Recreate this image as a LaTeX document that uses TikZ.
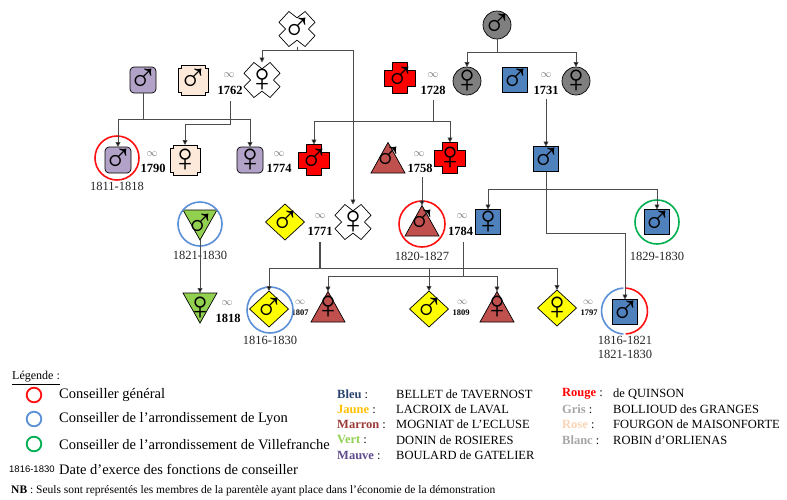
\documentclass[tikz,border=0pt]{standalone}
\usepackage{fontspec}
\setmainfont{Liberation Serif}
\setsansfont{Liberation Sans}
\newfontfamily\symf{Liberation Serif}
\usetikzlibrary{arrows.meta}
\definecolor{cBleu}{HTML}{4F81BD}
\definecolor{cMauve}{HTML}{B3A2C7}
\definecolor{cGris}{HTML}{7F7F7F}
\definecolor{cJaune}{HTML}{FFFF00}
\definecolor{cMarron}{HTML}{C0504D}
\definecolor{cVert}{HTML}{92D050}
\definecolor{cRouge}{HTML}{FF0000}
\definecolor{cRose}{HTML}{FDE9D9}
\definecolor{ringRed}{HTML}{FF1010}
\definecolor{ringBlue}{HTML}{5B8FD6}
\definecolor{ringGreen}{HTML}{00B050}
\definecolor{tBleu}{HTML}{2B4470}
\definecolor{tJaune}{HTML}{FFC000}
\definecolor{tMarron}{HTML}{9B3B38}
\definecolor{tVert}{HTML}{92D050}
\definecolor{tMauve}{HTML}{5F4B8B}
\definecolor{tRouge}{HTML}{FF0000}
\definecolor{tGris}{HTML}{A6A6A6}
\definecolor{tRose}{HTML}{FBD4B4}
\definecolor{tBlanc}{HTML}{A6A6A6}
\tikzset{
  shp/.style={draw=black, line width=0.7pt},
  person/.style={inner sep=0pt, outer sep=0pt, font=\symf\fontsize{40}{40}\selectfont},
  Bleubox/.style={minimum width=25pt, minimum height=25pt},
  Mauvebox/.style={minimum width=26pt, minimum height=26pt},
  Grisbox/.style={minimum width=28pt, minimum height=28pt},
  Jaunebox/.style={minimum width=39pt, minimum height=36pt},
  Marronbox/.style={minimum width=34pt, minimum height=31pt},
  Vertbox/.style={minimum width=34pt, minimum height=30pt},
  Rougebox/.style={minimum width=31pt, minimum height=31pt},
  Rosebox/.style={minimum width=30pt, minimum height=30pt},
  Blancbox/.style={minimum width=36pt, minimum height=35pt},
  pBleu/.pic={\path[shp, fill=cBleu] (-12.5,-12.5) rectangle (12.5,12.5);},
  pMauve/.pic={\path[shp, fill=cMauve, rounded corners=4pt] (-13,-13) rectangle (13,13);},
  pGris/.pic={\path[shp, fill=cGris] (0,0) circle[radius=14];},
  pJaune/.pic={\path[shp, fill=cJaune] (0,-18) -- (19.5,0) -- (0,18) -- (-19.5,0) -- cycle;},
  pMarron/.pic={\path[shp, fill=cMarron] (0,-15.5) -- (17,15) -- (-17,15) -- cycle;},
  pVert/.pic={\path[shp, fill=cVert] (-17,-15) -- (17,-15) -- (0,15) -- cycle;},
  pRouge/.pic={\path[shp, fill=cRouge] (-7.5,-15.5) -- (7.5,-15.5) -- (7.5,-8) -- (15.5,-8) -- (15.5,8) -- (7.5,8) -- (7.5,15.5) -- (-7.5,15.5) -- (-7.5,8) -- (-15.5,8) -- (-15.5,-8) -- (-7.5,-8) -- cycle;},
  pRose/.pic={\path[shp, fill=cRose] (-12,-15) -- (12,-15) -- (12,-12) -- (15,-12) -- (15,12) -- (12,12) -- (12,15) -- (-12,15) -- (-12,12) -- (-15,12) -- (-15,-12) -- (-12,-12) -- cycle;},
  pBlanc/.pic={\path[shp, fill=white] (-18,-6.7) -- (-8.1,-17.5) -- (0,-11.2) -- (8.1,-17.5) -- (18,-6.7) -- (11.5,0) -- (18,6.7) -- (8.1,17.5) -- (0,11.2) -- (-8.1,17.5) -- (-18,6.7) -- (-11.5,0) -- cycle;},
  link/.style={draw=black!70, line width=0.8pt},
  arr/.style={link, -{Triangle[length=5pt,width=5pt,fill=black]}},
  infs/.style={text=black!55, font=\fontsize{11}{11}\selectfont, inner sep=0pt},
  yr/.style={font=\bfseries\fontsize{12.5}{12.5}\selectfont, inner sep=0pt},
  syr/.style={font=\bfseries\fontsize{8.5}{8.5}\selectfont, inner sep=0pt},
  sinf/.style={text=black!55, font=\fontsize{10}{10}\selectfont, inner sep=0pt},
  date/.style={text=black!85, font=\fontsize{12.5}{12.5}\selectfont, inner sep=0pt},
  ring/.style={line width=1.6pt},
  lgtext/.style={anchor=west, inner sep=0pt, font=\fontsize{14.5}{14.5}\selectfont},
  lgkey/.style={anchor=west, inner sep=0pt, font=\fontsize{12.5}{12.5}\selectfont},
  lgring/.style={circle, line width=1.8pt, minimum size=14.6pt, inner sep=0pt},
}
\newcommand\pers[4]{\pic at (#2) {p#3}; \node[person, #3box] (#1) at (#2) {#4};}
\newcommand\marr[4]{\node[infs] (i#1) at (#2) {$\infty$}; \node[yr] (y#1) at (#3) {#1};}
\newcommand\smarr[3]{\node[sinf] (i#1) at (#2) {$\infty$}; \node[syr] (y#1) at (#3) {#1};}
\begin{document}
\begin{tikzpicture}[x=1pt,y=-1pt]
\path[use as bounding box, fill=white] (0,0) rectangle (787,499);
% persons
\pers{rob1}{297,29}{Blanc}{♂}
\pers{gris1}{497,25}{Gris}{♂}
\pers{mau1}{143,80}{Mauve}{♂}
\pers{ros1}{193,80}{Rose}{♂}
\pers{rob2}{262,80}{Blanc}{♀}
\pers{rouge1}{400,78}{Rouge}{♂}
\pers{gris2}{467,81}{Gris}{♀}
\pers{bleu1}{515,80}{Bleu}{♂}
\pers{gris3}{576,81}{Gris}{♀}
\pers{mau2}{118,160}{Mauve}{♂}
\pers{ros2}{185,160}{Rose}{♀}
\pers{mau3}{250,160}{Mauve}{♀}
\pers{rouge2}{314,160}{Rouge}{♂}
\pers{mar1}{388,158}{Marron}{♂}
\pers{rouge3}{450,158}{Rouge}{♀}
\pers{bleu2}{546,159}{Bleu}{♂}
\pers{vert1}{200,225}{Vert}{♂}
\pers{jau1}{285,222}{Jaune}{♂}
\pers{rob3}{353,222}{Blanc}{♀}
\pers{mar2}{422,221}{Marron}{♂}
\pers{bleu3}{488,222}{Bleu}{♀}
\pers{bleu4}{657,222}{Bleu}{♂}
\pers{vert2}{200,308}{Vert}{♀}
\pers{jau2}{269,309}{Jaune}{♂}
\pers{mar3}{328,307}{Marron}{♀}
\pers{jau3}{429,309}{Jaune}{♂}
\pers{mar4}{497,307}{Marron}{♀}
\pers{jau4}{557,308}{Jaune}{♀}
\pers{bleu5}{625,312}{Bleu}{♂}
% marriages
\marr{1762}{229,75}{230,90}{}
\marr{1728}{433,75}{433,90}{}
\marr{1731}{546,75}{546,90}{}
\marr{1790}{152,154}{153,168}{}
\marr{1774}{279,154}{279,168}{}
\marr{1758}{419,154}{420,168}{}
\marr{1771}{320,216}{320,231}{}
\marr{1784}{462,216}{460.5,231}{}
\marr{1818}{227,303}{228,318}{}
\smarr{1807}{300,302}{300,313}
\smarr{1809}{462,302}{461,313}
\smarr{1797}{588,302}{589,313}
% dates
\node[date] (d1) at (117,186) {1811-1818};
\node[date] (d2) at (200,255) {1821-1830};
\node[date] (d3) at (422,256) {1820-1827};
\node[date] (d4) at (657,256) {1829-1830};
\node[date] (d5) at (270,340) {1816-1830};
\node[date] (d6) at (625,340) {1816-1821};
\node[date] (d7) at (625,354) {1821-1830};
% rings
\draw[ring, ringRed] ([shift={(-1,-2)}]mau2.center) circle[radius=22];
\draw[ring, ringBlue] ([shift={(0,-1)}]vert1.center) circle[radius=22];
\draw[ring, ringRed] ([shift={(0,3)}]mar2.center) circle[radius=23];
\draw[ring, ringGreen] (bleu4.center) circle[radius=22];
\draw[ring, ringBlue] ([shift={(1,1)}]jau2.center) circle[radius=23];
\draw[ring, ringBlue] ([shift={(-0.5,-1)}]bleu5.center) ++(-93:23) arc[start angle=-93, end angle=-267, radius=23];
\draw[ring, ringRed] ([shift={(-0.5,-1)}]bleu5.center) ++(-87:23) arc[start angle=-87, end angle=87, radius=23];
% connectors
\coordinate (jrob) at (297,50);
\draw[link] (rob1.south) -- (jrob);
\draw[arr] (jrob) -| (rob2.north);
\draw[arr] (jrob) -| (rob3.north);
\coordinate (jgris) at (497,52);
\draw[link] (gris1.south) -- (jgris);
\draw[arr] (jgris) -| (gris2.north);
\draw[arr] (jgris) -| (gris3.north);
\coordinate (jmau) at (143,119);
\draw[link] (mau1.south) -- (jmau);
\draw[arr] (jmau) -| (mau2.north);
\draw[arr] (jmau) -| (mau3.north);
\coordinate (j1762) at (230,124);
\draw[arr] ([yshift=-7pt]y1762.south) -- (j1762) -| (ros2.north);
\coordinate (j1728) at (433,121);
\draw[link] ([yshift=-6pt]y1728.south) -- (j1728);
\draw[arr] (j1728) -| (rouge2.north);
\draw[arr] (j1728) -| (rouge3.north);
\draw[arr] (bleu2.north |- y1731.south) ++(0,5) -- (bleu2.north);
\draw[arr] (mar2.north |- y1758.south) ++(0,5) -- (mar2.north);
\coordinate (jb2) at (546,189);
\draw[link] (bleu2.south) -- (jb2);
\draw[arr] (jb2) -| (bleu3.north);
\draw[arr] (jb2) -| (bleu4.north);
\coordinate (jb2b) at (546,233);
\draw[arr] (jb2) -- (jb2b) -| (bleu5.north);
\draw[arr] (vert1.south) -- (vert2.north);
\coordinate (j1771) at (320,268);
\draw[link, line width=1.3pt] (y1771.south) ++(0,7) -- (j1771);
\draw[arr] (j1771) -| (jau2.north);
\draw[arr] (j1771) -| (jau3.north);
\draw[arr] (j1771) -| (jau4.north);
\coordinate (j1784) at (463,276);
\draw[link] (j1784 |- y1784.south) ++(0,7) -- (j1784);
\draw[arr] (j1784) -| (mar3.north);
\draw[arr] (j1784) -| (mar4.north);
% legend left
\node[anchor=west, inner sep=0pt, font=\fontsize{12}{12}\selectfont] (lgt) at (12,378) {\underline{Légende :}};
\node[lgring, draw=ringRed] (lr1) at (34,395) {};
\node[lgring, draw=ringBlue] (lr2) at (34,419) {};
\node[lgring, draw=ringGreen] (lr3) at (34,444) {};
\node[lgtext] (lt1) at (59,395) {Conseiller général};
\node[lgtext] (lt2) at (59,419) {Conseiller de l’arrondissement de Lyon};
\node[lgtext] (lt3) at (59,444) {Conseiller de l’arrondissement de Villefranche};
\node[anchor=west, inner sep=0pt, font=\sffamily\fontsize{9.5}{9.5}\selectfont] (ld) at (9,469) {1816-1830};
\node[lgtext] (lt4) at (59,469) {Date d’exerce des fonctions de conseiller};
\node[anchor=west, inner sep=0pt, font=\fontsize{11.5}{11.5}\selectfont] (nb) at (11,491) {\textbf{NB} : Seuls sont représentés les membres de la parentèle ayant place dans l’économie de la démonstration};
% legend right
\node[lgkey] (k1) at (337,394) {\textbf{\color{tBleu}Bleu} :};
\node[lgkey] (k2) at (337,409.3) {\textbf{\color{tJaune}Jaune} :};
\node[lgkey] (k3) at (337,424.5) {\textbf{\color{tMarron}Marron} :};
\node[lgkey] (k4) at (337,439.8) {\textbf{\color{tVert}Vert} :};
\node[lgkey] (k5) at (337,455) {\textbf{\color{tMauve}Mauve} :};
\node[lgkey] (n1) at (396,394) {BELLET de TAVERNOST};
\node[lgkey] (n2) at (396,409.3) {LACROIX de LAVAL};
\node[lgkey] (n3) at (396,424.5) {MOGNIAT de L’ECLUSE};
\node[lgkey] (n4) at (396,439.8) {DONIN de ROSIERES};
\node[lgkey] (n5) at (396,455) {BOULARD de GATELIER};
\node[lgkey] (k6) at (562,394) {\textbf{\color{tRouge}Rouge} :};
\node[lgkey] (k7) at (562,409.3) {\textbf{\color{tGris}Gris} :};
\node[lgkey] (k8) at (562,424.5) {\textbf{\color{tRose}Rose} :};
\node[lgkey] (k9) at (562,439.8) {\textbf{\color{tBlanc}Blanc} :};
\node[lgkey] (n6) at (613,394) {de QUINSON};
\node[lgkey] (n7) at (613,409.3) {BOLLIOUD des GRANGES};
\node[lgkey] (n8) at (613,424.5) {FOURGON de MAISONFORTE};
\node[lgkey] (n9) at (613,439.8) {ROBIN d’ORLIENAS};
\end{tikzpicture}
\end{document}
